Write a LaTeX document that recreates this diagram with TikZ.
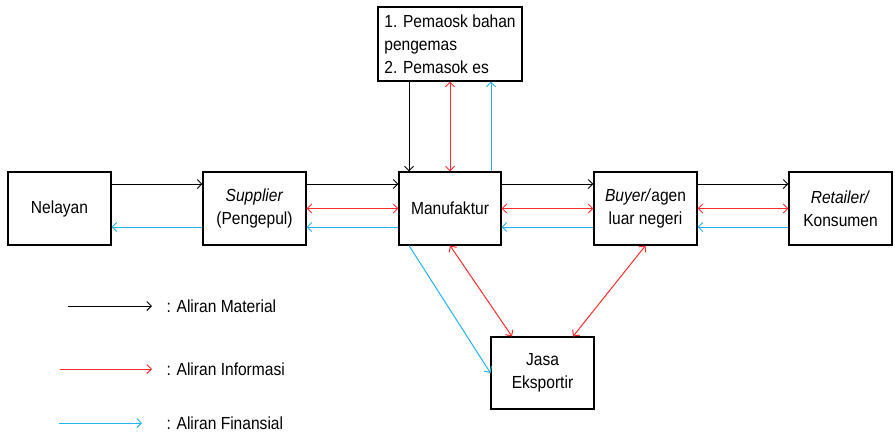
\documentclass[tikz,border=0pt]{standalone}
\usepackage{fontspec}
\setmainfont[FakeStretch=0.89]{Liberation Sans}
\usetikzlibrary{arrows.meta,positioning}
\definecolor{infocol}{RGB}{255,45,45}
\definecolor{fincol}{RGB}{35,180,240}

\begin{document}
\begin{tikzpicture}[x=1pt,y=-1pt,>={Straight Barb[length=4.5pt,width=9pt]},
  font=\fontsize{17.5}{23}\selectfont,
  box/.style={draw,line width=1.1pt,minimum width=103pt,minimum height=73pt,
    align=center,inner sep=2pt},
  mat/.style={->,line width=1pt,black},
  info/.style={<->,line width=1pt,infocol},
  fin/.style={->,line width=1pt,fincol}]
  \useasboundingbox (0,0) rectangle (895,432);
  % actors of the chain
  \node[box] (nel) at (59.5,208.5) {Nelayan};
  \node[box] (sup) at (254.5,208.5) {\textit{Supplier}\\(Pengepul)};
  \node[box,minimum width=102pt] (man) at (450,208.5) {Manufaktur};
  \node[box] (buy) at (645.5,208.5) {\textit{Buyer/}agen\\luar negeri};
  \node[box] (ret) at (840.5,208.5) {\textit{Retailer/}\\Konsumen};
  \node[box,minimum width=144pt,minimum height=74pt,align=left] (pem) at (450,44)
      {1. Pemaosk bahan\\pengemas\\2. Pemasok es};
  \node[box,minimum height=72pt] (jas) at (542.5,373) {Jasa\\Eksportir};
  % material flow
  \draw[mat] ([yshift=24.5pt]nel.east) -- ([yshift=24.5pt]sup.west);
  \draw[mat] ([yshift=24.5pt]sup.east) -- ([yshift=24.5pt]man.west);
  \draw[mat] ([yshift=24.5pt]man.east) -- ([yshift=24.5pt]buy.west);
  \draw[mat] ([yshift=24.5pt]buy.east) -- ([yshift=24.5pt]ret.west);
  \draw[mat] ([xshift=-41pt]pem.south) -- ([xshift=-41pt]man.north);
  % information flow
  \draw[info] (sup.east) -- (man.west);
  \draw[info] (man.east) -- (buy.west);
  \draw[info] (buy.east) -- (ret.west);
  \draw[info] (pem.south) -- (man.north);
  \draw[info] (man.south) -- ([xshift=-30.5pt]jas.north);
  \draw[info] (buy.south) -- ([xshift=30.5pt]jas.north);
  % financial flow
  \draw[fin] ([yshift=-18.5pt]sup.west) -- ([yshift=-18.5pt]nel.east);
  \draw[fin] ([yshift=-18.5pt]man.west) -- ([yshift=-18.5pt]sup.east);
  \draw[fin] ([yshift=-18.5pt]buy.west) -- ([yshift=-18.5pt]man.east);
  \draw[fin] ([yshift=-18.5pt]ret.west) -- ([yshift=-18.5pt]buy.east);
  \draw[fin] ([xshift=41pt]man.north) -- ([xshift=41pt]pem.south);
  \draw[fin] ([xshift=-41pt]man.south) -- (jas.west);
  % legend
  \coordinate (m0) at (68,306);  \coordinate (m1) at (152,306);
  \coordinate (i0) at (60,369);  \coordinate (i1) at (152,369);
  \coordinate (f0) at (59,423);  \coordinate (f1) at (142,423);
  \draw[mat] (m0) -- (m1);
  \draw[->,line width=1pt,infocol] (i0) -- (i1);
  \draw[fin] (f0) -- (f1);
  \node[anchor=west] (mtxt) at (163,306) {: Aliran Material};
  \node[anchor=west] (itxt) at (163,369) {: Aliran Informasi};
  \node[anchor=west] (ftxt) at (163,423) {: Aliran Finansial};
\end{tikzpicture}
\end{document}
